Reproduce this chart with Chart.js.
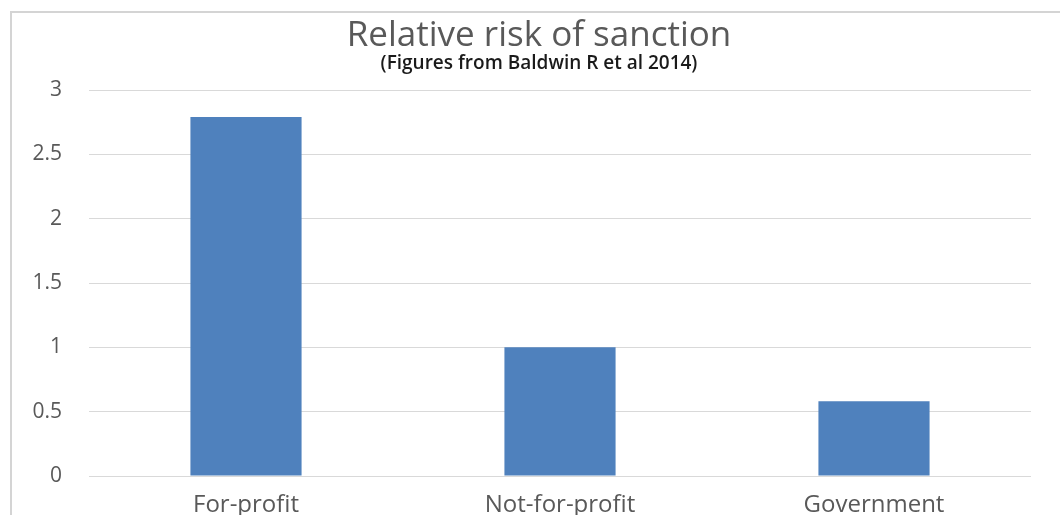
<!DOCTYPE html>
<html>
<head>
<meta charset="utf-8">
<script src="https://cdn.jsdelivr.net/npm/chart.js@4/dist/chart.umd.min.js"></script>
<style>
  html, body { margin: 0; padding: 0; background: #fff; overflow: hidden; }
  #frame { position: absolute; left: 10px; top: 11px; width: 1100px; height: 600px; border: 2px solid #d4d4d4; box-sizing: border-box; }
  #wrap { position: absolute; left: 0; top: 0; width: 1060px; height: 540px; }
</style>
</head>
<body>
<div id="frame"></div>
<div id="wrap"><canvas id="chart" width="1060" height="540"></canvas></div>
<script>
const categories = ["For-profit", "Not-for-profit", "Government"];
const riskValues = [2.79, 1.0, 0.58];
const yTicks = [0, 0.5, 1, 1.5, 2, 2.5, 3];
const yTickLabels = ["0", "0.5", "1", "1.5", "2", "2.5", "3"];

const tickFont = "21px 'Open Sans'";
const ctx = document.getElementById("chart").getContext("2d");

// y labels are mirrored (so they are not clipped to the narrow axis box),
// then pulled back left so their right edge sits ~27px left of the plot
ctx.font = tickFont;
const widest = Math.max(...yTickLabels.map(t => ctx.measureText(t).width));

new Chart(ctx, {
  type: "bar",
  data: {
    labels: categories,
    datasets: [{
      data: riskValues,
      backgroundColor: "#4f81bd",
      categoryPercentage: 1,
      barPercentage: 0.354
    }]
  },
  options: {
    responsive: false,
    animation: false,
    layout: { padding: { top: 11, right: 29, left: 47, bottom: 0 } },
    plugins: {
      legend: { display: false },
      tooltip: { enabled: false },
      title: {
        display: true,
        text: "Relative risk of sanction",
        color: "#595959",
        font: { family: "Open Sans", size: 35, weight: "normal", lineHeight: 1 },
        padding: { top: 8, bottom: 0 }
      },
      subtitle: {
        display: true,
        text: "(Figures from Baldwin R et al 2014)",
        color: "#1a1a1a",
        font: { family: "Open Sans", size: 19, weight: "600", lineHeight: 1 },
        padding: { top: 0, bottom: 17 }
      }
    },
    scales: {
      x: {
        grid: { display: false, drawTicks: false },
        border: { display: false },
        ticks: { color: "#595959", font: { family: "Open Sans", size: 24 }, padding: 15 },
        afterFit: s => { s.height = 64; }
      },
      y: {
        min: 0,
        max: 3,
        afterBuildTicks: s => { s.ticks = yTicks.map(v => ({ value: v })); },
        grid: { color: "#d9d9d9", lineWidth: 1, drawTicks: false },
        border: { display: false },
        ticks: {
          color: "#595959",
          font: { family: "Open Sans", size: 21 },
          mirror: true,
          crossAlign: "far",
          padding: -27 - widest,
          callback: (v, i) => yTickLabels[i]
        },
        afterFit: s => { s.width = 42; }
      }
    }
  }
});
</script>
</body>
</html>
